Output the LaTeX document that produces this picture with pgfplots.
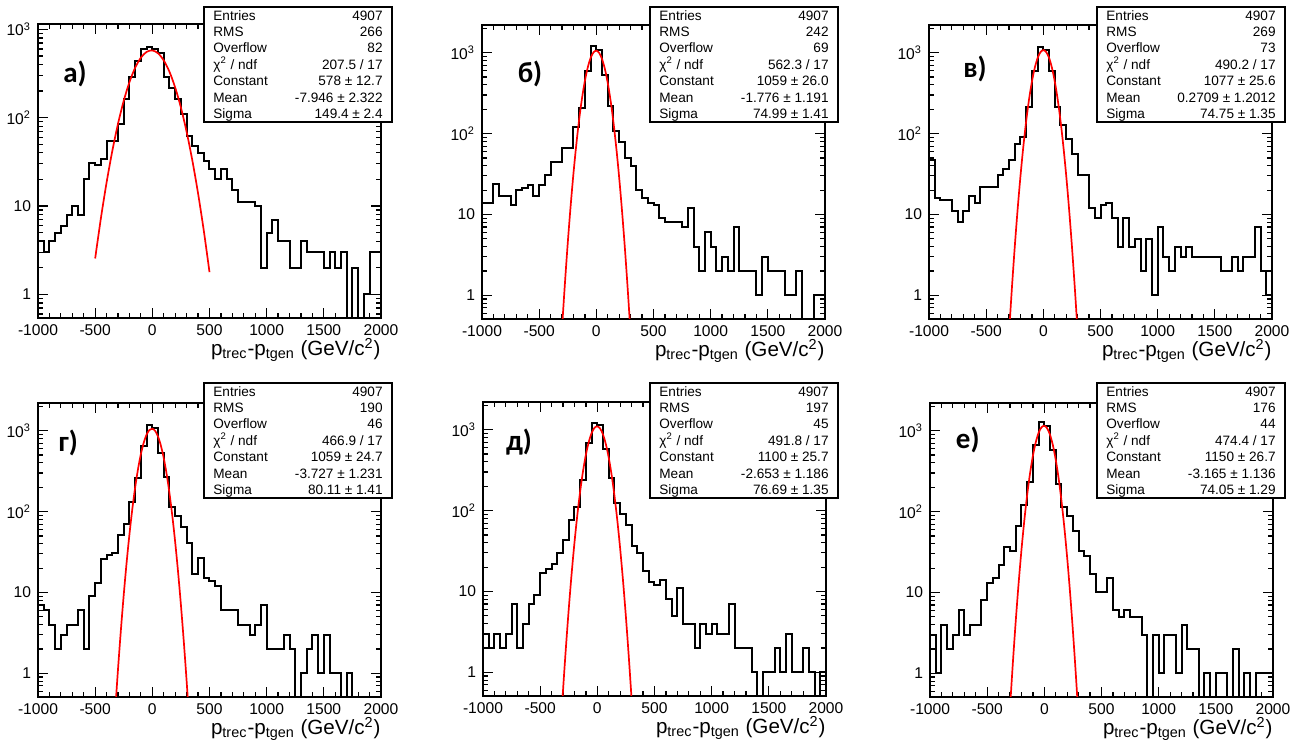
\documentclass[border=0pt]{standalone}
\usepackage{fontspec}
\setmainfont{Liberation Sans}
\newfontfamily\panelfont{Carlito}
\usepackage{pgfplots}
\usepackage{pgfplotstable}
\pgfplotsset{compat=1.18}

\pgfplotstableread{
x a b v g d e
-1000 4 14 47 7 3 3
-950 3 14 16 6 2 1
-900 4 24 15 4 3 4
-850 5 17 15 2 2 2
-800 6 17 11 3 3 3
-750 8 13 8 4 7 6
-700 10 20 11 4 2 3
-650 8 21 17 6 4 4
-600 20 23 14 2 7 4
-550 31 17 22 9 9 8
-500 29 23 22 13 17 13
-450 34 31 22 26 19 15
-400 54 44 31 29 22 22
-350 54 44 36 31 30 36
-300 84 67 47 51 43 33
-250 161 67 75 70 76 67
-200 291 120 92 130 111 120
-150 437 207 211 260 240 230
-100 594 596 596 640 690 670
-50 632 1208 1186 1190 1200 1290
0 594 1080 1080 1080 1130 1150
50 545 531 596 530 570 570
100 291 221 215 265 255 220
150 218 109 128 115 124 115
200 161 78 86 89 90 89
250 109 50 56 64 67 58
300 62 40 31 41 36 33
350 48 20 31 17 30 28
400 40 16 12 27 18 17
450 32 14 9 15 13 10
500 26 13 13 14 12 10
550 20 9 14 12 14 15
600 26 8 9 6 8 6
650 20 8 4 6 5 5
700 15 8 9 6 11 6
750 11 7 4 4 4 5
800 11 12 5 4 4 5
850 11 4 2 3 2 3
900 10 2 5 4 4 0
950 2 6 1 7 3 3
1000 5 4 7 2 4 1
1050 7 2 3 2 3 3
1100 4 3 2 2 3 3
1150 4 2 4 3 7 1
1200 2 7 3 2 2 4
1250 2 2 4 0 2 2
1300 4 2 3 1 2 2
1350 3 2 3 2 1 0
1400 3 1 3 3 0 1
1450 3 3 3 1 1 0
1500 2 2 3 3 1 1
1550 3 2 2 1 2 1
1600 2 2 2 1 1 0
1650 3 1 3 0 3 2
1700 0 1 2 1 1 0
1750 2 2 3 0 1 1
1800 0 0 3 0 2 0
1850 1 0 7 0 1 1
1900 3 1 2 0 0 1
1950 3 1 1 0 1 1
2000 3 1 1 0 1 1
}\hist

\newcommand{\statfont}{\fontsize{6.8}{8}\selectfont}
\newcommand{\statline}[3]{%
  \node[anchor=base west, inner sep=0pt] at (4.5pt,{-6.6pt-8.2pt*#1}) {#2};
  \node[anchor=base east, inner sep=0pt] at (89.5pt,{-6.6pt-8.2pt*#1}) {#3};}
\newcommand{\statbox}[9]{%
  \begin{scope}[shift={(#1,#2)}, every node/.style={font=\statfont}]
  \draw[line width=0.8pt, fill=white] (0,0) rectangle (94pt,-57.5pt);
  \statline{0}{Entries}{#3}
  \statline{1}{RMS}{#4}
  \statline{2}{Overflow}{#5}
  \statline{3}{χ\textsuperscript{2} / ndf}{#6}
  \statline{4}{Constant}{#7}
  \statline{5}{Mean}{#8}
  \statline{6}{Sigma}{#9}
  \end{scope}}
\newcommand{\plab}{\panelfont\bfseries\fontsize{14.5}{16}\selectfont}

\pgfplotsset{
  myPanel/.style={
    scale only axis, width=171.5pt, height=147pt, anchor=south west,
    xmin=-1000, xmax=2000,
    xtick={-1000,-500,0,500,1000,1500,2000},
    xticklabels={-1000,-500,0,500,1000,1500,2000},
    minor x tick num=4,
    ytick={1,10,100,1000},
    yticklabels={1,10,10\textsuperscript{2},10\textsuperscript{3}},
    minor ytick={0.6,0.7,0.8,0.9,2,3,4,5,6,7,8,9,20,30,40,50,60,70,80,90,200,300,400,500,600,700,800,900,2000},
    tick label style={font=\fontsize{7.8}{9}\selectfont},
    major tick length=5pt, minor tick length=2.5pt,
    every tick/.style={black, line width=0.6pt},
    axis line style={line width=1pt},
    xlabel={p\textsubscript{trec}-p\textsubscript{tgen} (GeV/c\textsuperscript{2})},
    xlabel style={at={(rel axis cs:1,0)}, anchor=north east, yshift=-10pt,
      font=\fontsize{10.3}{12}\selectfont, inner sep=0pt},
  },
  myHist/.style={const plot mark left, black, line width=1pt, mark=none},
  myFit/.style={red, line width=0.85pt, smooth, mark=none},
}

\begin{document}
\begin{tikzpicture}
\path[use as bounding box] (0,0) rectangle (654pt,372pt);

% a
\begin{axis}[ymode=log, myPanel, at={(19pt,213pt)}, ymin=0.54, ymax=1150]
\addplot[myHist] table[x=x, y expr={max(\thisrow{a},0.1)}] {\hist};
\addplot[myFit] coordinates {(-500,2.548) (-450,7.26) (-400,18.48) (-350,42.04) (-300,85.54) (-250,155.6) (-200,253.0) (-150,367.8) (-100,478.1) (-50,555.6) (0,577.2) (50,536.1) (100,445.2) (150,330.5) (200,219.4) (250,130.2) (300,69.07) (350,32.77) (400,13.90) (450,5.27) (500,1.784)};
\node[font=\plab] at (rel axis cs:0.108,0.83) {а)};
\end{axis}

% b
\begin{axis}[ymode=log, myPanel, at={(241pt,212.5pt)}, ymin=0.51, ymax=2200]
\addplot[myHist] table[x=x, y expr={max(\thisrow{b},0.1)}] {\hist};
\addplot[myFit] coordinates {(-325,0.0979) (-300,0.3898) (-275,1.387) (-250,4.422) (-225,12.61) (-200,32.18) (-175,73.49) (-150,150.2) (-125,274.5) (-100,449.1) (-75,657.4) (-50,861.2) (-25,1009.4) (0,1058.7) (25,993.6) (50,834.4) (75,627.0) (100,421.6) (125,253.7) (150,136.6) (175,65.81) (200,28.36) (225,10.94) (250,3.780) (275,1.166) (300,0.3223) (325,0.0797)};
\node[font=\plab] at (rel axis cs:0.14,0.834) {б)};
\end{axis}

% v
\begin{axis}[ymode=log, myPanel, at={(464.5pt,212.5pt)}, ymin=0.51, ymax=2200]
\addplot[myHist] table[x=x, y expr={max(\thisrow{v},0.1)}] {\hist};
\addplot[myFit] coordinates {(-325,0.0833) (-300,0.3375) (-275,1.223) (-250,3.963) (-225,11.49) (-200,29.75) (-175,68.92) (-150,142.8) (-125,264.5) (-100,438.0) (-75,648.7) (-50,859.0) (-25,1017.2) (0,1077.0) (25,1019.6) (50,863.2) (75,653.4) (100,442.3) (125,267.7) (150,144.9) (175,70.11) (200,30.33) (225,11.74) (250,4.060) (275,1.256) (300,0.3474) (325,0.0859)};
\node[font=\plab] at (rel axis cs:0.134,0.851) {в)};
\end{axis}

% g
\begin{axis}[ymode=log, myPanel, at={(19pt,23.5pt)}, ymin=0.51, ymax=2200]
\addplot[myHist] table[x=x, y expr={max(\thisrow{g},0.1)}] {\hist};
\addplot[myFit] coordinates {(-350,0.0929) (-325,0.3407) (-300,1.1346) (-275,3.427) (-250,9.391) (-225,23.34) (-200,52.65) (-175,107.7) (-150,199.9) (-125,336.7) (-100,514.4) (-75,712.9) (-50,896.3) (-25,1022.3) (0,1057.9) (25,993.1) (50,845.7) (75,653.4) (100,457.9) (125,291.2) (150,168.0) (175,87.91) (200,41.74) (225,17.98) (250,7.024) (275,2.490) (300,0.8008) (325,0.2336) (350,0.0618)};
\node[font=\plab] at (rel axis cs:0.088,0.864) {г)};
\end{axis}

% d
\begin{axis}[ymode=log, myPanel, at={(241.5pt,24pt)}, ymin=0.51, ymax=2200]
\addplot[myHist] table[x=x, y expr={max(\thisrow{d},0.1)}] {\hist};
\addplot[myFit] coordinates {(-325,0.1603) (-300,0.5984) (-275,2.008) (-250,6.060) (-225,16.45) (-200,40.13) (-175,88.04) (-150,173.7) (-125,308.1) (-100,491.5) (-75,704.9) (-50,909.1) (-25,1054.3) (0,1099.3) (25,1030.8) (50,869.0) (75,658.8) (100,449.1) (125,275.3) (150,151.7) (175,75.19) (200,33.50) (225,13.43) (250,4.837) (275,1.567) (300,0.4565) (325,0.1196)};
\node[font=\plab] at (rel axis cs:0.105,0.864) {д)};
\end{axis}

% e
\begin{axis}[ymode=log, myPanel, at={(465pt,23.5pt)}, ymin=0.51, ymax=2200]
\addplot[myHist] table[x=x, y expr={max(\thisrow{e},0.1)}] {\hist};
\addplot[myFit] coordinates {(-325,0.0910) (-300,0.3727) (-275,1.363) (-250,4.446) (-225,12.94) (-200,33.60) (-175,77.87) (-150,161.0) (-125,297.1) (-100,489.1) (-75,718.4) (-50,941.5) (-25,1101.1) (0,1148.9) (25,1069.8) (50,888.7) (75,658.8) (100,435.7) (125,257.2) (150,135.4) (175,63.63) (200,26.68) (225,9.979) (250,3.331) (275,0.9921) (300,0.2636) (325,0.0625)};
\node[font=\plab] at (rel axis cs:0.11,0.874) {е)};
\end{axis}

\statbox{102pt}{368.5pt}{4907}{266}{82}{207.5 / 17}{578 ± 12.7}{-7.946 ± 2.322}{149.4 ± 2.4}
\statbox{325pt}{368.5pt}{4907}{242}{69}{562.3 / 17}{1059 ± 26.0}{-1.776 ± 1.191}{74.99 ± 1.41}
\statbox{548.5pt}{368.5pt}{4907}{269}{73}{490.2 / 17}{1077 ± 25.6}{0.2709 ± 1.2012}{74.75 ± 1.35}
\statbox{102pt}{180.5pt}{4907}{190}{46}{466.9 / 17}{1059 ± 24.7}{-3.727 ± 1.231}{80.11 ± 1.41}
\statbox{325pt}{180.5pt}{4907}{197}{45}{491.8 / 17}{1100 ± 25.7}{-2.653 ± 1.186}{76.69 ± 1.35}
\statbox{548.5pt}{180.5pt}{4907}{176}{44}{474.4 / 17}{1150 ± 26.7}{-3.165 ± 1.136}{74.05 ± 1.29}
\end{tikzpicture}
\end{document}
